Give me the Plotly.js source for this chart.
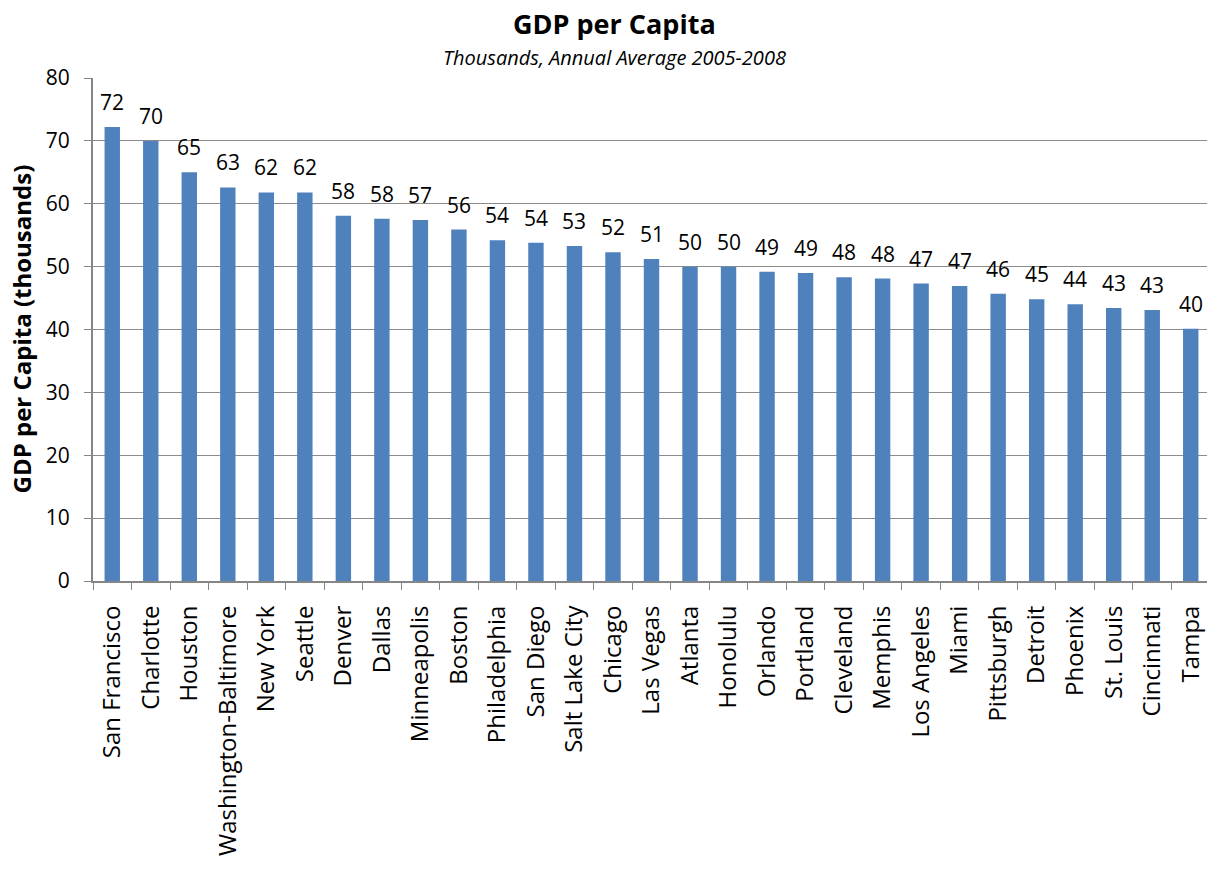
<!DOCTYPE html>
<html>
<head>
<meta charset="utf-8">
<script src="https://cdn.plot.ly/plotly-3.0.1.min.js"></script>
<style>
html, body { margin: 0; padding: 0; overflow: hidden; background: #fff; }
#chart { width: 1210px; height: 869px; }
</style>
</head>
<body>
<div id="chart"></div>
<script>
const cities = ["San Francisco","Charlotte","Houston","Washington-Baltimore","New York","Seattle","Denver","Dallas","Minneapolis","Boston","Philadelphia","San Diego","Salt Lake City","Chicago","Las Vegas","Atlanta","Honolulu","Orlando","Portland","Cleveland","Memphis","Los Angeles","Miami","Pittsburgh","Detroit","Phoenix","St. Louis","Cincinnati","Tampa"];
const gdpPerCapita = [72.2,70.0,65.0,62.6,61.8,61.8,58.1,57.6,57.4,55.9,54.2,53.8,53.3,52.3,51.2,50.0,50.0,49.2,49.0,48.3,48.1,47.3,46.9,45.7,44.8,44.0,43.4,43.1,40.1];
const labels = gdpPerCapita.map(v => String(Math.round(v)));
const yTicks = [0,10,20,30,40,50,60,70,80];
const titleText = "GDP per Capita";
const subtitleText = "Thousands, Annual Average 2005-2008";
const yTitle = "GDP per Capita (thousands)";

const font = "Open Sans, Noto Sans, sans-serif";

const valueLabels = cities.map((c, i) => ({
  x: c, y: gdpPerCapita[i], xref: "x", yref: "y",
  text: labels[i], showarrow: false, xanchor: "center", yanchor: "bottom",
  yshift: 9, font: {family: font, size: 21, color: "#000"}
}));

Plotly.newPlot("chart", [{
  type: "bar",
  x: cities,
  y: gdpPerCapita,
  cliponaxis: false,
  marker: {color: "#4F81BD", line: {width: 0}},
  hoverinfo: "x+y"
}], {
  width: 1210,
  height: 869,
  margin: {l: 93, r: 0, t: 78, b: 288, pad: 0},
  paper_bgcolor: "#fff",
  plot_bgcolor: "#fff",
  bargap: 0.6,
  showlegend: false,
  font: {family: font, color: "#000"},
  xaxis: {
    type: "category",
    tickangle: -90,
    tickfont: {family: font, size: 24, color: "#000"},
    ticks: "outside",
    tickson: "boundaries",
    ticklen: 7,
    tickcolor: "#868686",
    ticklabelstandoff: 13,
    showline: true,
    linecolor: "#868686",
    linewidth: 2,
    showgrid: false,
    automargin: false
  },
  yaxis: {
    range: [0, 80],
    tickvals: yTicks,
    ticktext: yTicks.map(String),
    tickfont: {family: font, size: 21, color: "#000"},
    ticks: "outside",
    ticklen: 7,
    tickcolor: "#868686",
    ticklabelstandoff: 10,
    showline: true,
    linecolor: "#868686",
    linewidth: 2,
    showgrid: true,
    gridcolor: "#8C8C8C",
    gridwidth: 1,
    zeroline: false,
    automargin: false
  },
  annotations: valueLabels.concat([
    {text: "<b>" + yTitle + "</b>", xref: "paper", yref: "paper", x: 0, y: 0.5, xshift: -72, textangle: -90, xanchor: "center", yanchor: "middle", showarrow: false, font: {family: font, size: 24, color: "#000"}},
    {text: "<b>" + titleText + "</b>", xref: "paper", yref: "paper", x: 0.467, y: 1, yshift: 55, xanchor: "center", yanchor: "middle", showarrow: false, font: {family: font, size: 27, color: "#000"}},
    {text: "<i>" + subtitleText + "</i>", xref: "paper", yref: "paper", x: 0.467, y: 1, yshift: 21, xanchor: "center", yanchor: "middle", showarrow: false, font: {family: font, size: 20, color: "#000"}}
  ])
}, {displayModeBar: false, staticPlot: true});
</script>
</body>
</html>
